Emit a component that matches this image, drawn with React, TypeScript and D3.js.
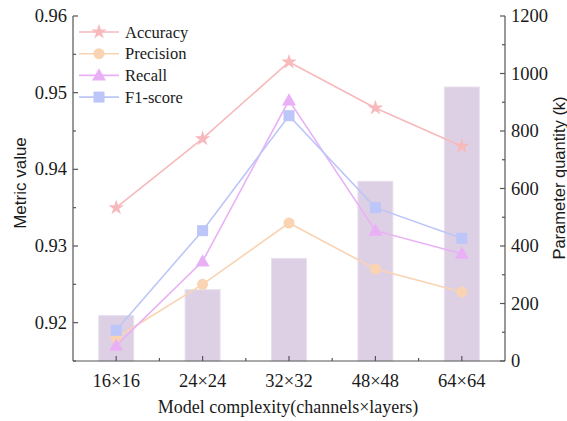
import React from "react";
import * as d3 from "d3";

const categories = ["16×16", "24×24", "32×32", "48×48", "64×64"];
const params = [158, 248, 357, 625, 953];
const accuracy = [0.935, 0.944, 0.954, 0.948, 0.943];
const precision = [0.918, 0.925, 0.933, 0.927, 0.924];
const recall = [0.917, 0.928, 0.949, 0.932, 0.929];
const f1 = [0.919, 0.932, 0.947, 0.935, 0.931];
const leftTicks = [0.92, 0.93, 0.94, 0.95, 0.96];
const rightTicks = [0, 200, 400, 600, 800, 1000, 1200];

const W = 567, H = 421;
const L = 73, R = 505, T = 16, B = 361;

const series = [
  { name: "Accuracy", values: accuracy, color: "#f7b9bc", marker: "star" },
  { name: "Precision", values: precision, color: "#f9d3b2", marker: "circle" },
  { name: "Recall", values: recall, color: "#eab0f6", marker: "triangle" },
  { name: "F1-score", values: f1, color: "#bcc6f8", marker: "square" },
];

function Marker({ type, x, y, color }: { type: string; x: number; y: number; color: string }) {
  if (type === "star") {
    const p = d3.symbol(d3.symbolStar, 75)();
    return <path d={p as string} transform={`translate(${x},${y})`} fill={color} />;
  }
  if (type === "circle") return <circle cx={x} cy={y} r={5.5} fill={color} />;
  if (type === "triangle") {
    const p = d3.symbol(d3.symbolTriangle, 85)();
    return <path d={p as string} transform={`translate(${x},${y + 1})`} fill={color} />;
  }
  return <rect x={x - 5.5} y={y - 5.5} width={11} height={11} fill={color} />;
}

export default function App() {
  const x = d3.scaleBand().domain(categories).range([L, R]).padding(0);
  const yL = d3.scaleLinear().domain([0.915, 0.96]).range([B, T]);
  const yR = d3.scaleLinear().domain([0, 1200]).range([B, T]);
  const bw = 35;
  const cx = (c: string) => (x(c) as number) + x.bandwidth() / 2;
  const line = d3.line<number>().x((_, i) => cx(categories[i])).y((d) => yL(d));
  const leftMinor = d3.range(0, 10).map((i) => 0.915 + i * 0.005);
  const rightMinor = d3.range(0, 13).map((i) => i * 100);
  const boundaries = d3.range(1, categories.length).map((i) => L + i * x.bandwidth());
  const axisColor = "#555";
  const font = "Liberation Serif, serif";
  const sans = "Liberation Sans, Arial, sans-serif";

  return (
    <svg width={W} height={H} style={{ position: "absolute", left: 0, top: 0 }}>
      <rect width={W} height={H} fill="white" />
      {categories.map((c, i) => (
        <rect key={c} x={cx(c) - bw / 2} y={yR(params[i])} width={bw} height={B - yR(params[i])}
          fill="#ddd0e4" stroke="#e8e0ee" strokeWidth={1} />
      ))}
      {series.map((s) => (
        <g key={s.name}>
          <path d={line(s.values) as string} fill="none" stroke={s.color} strokeWidth={1.6} />
          {s.values.map((v, i) => (
            <Marker key={i} type={s.marker} x={cx(categories[i])} y={yL(v)} color={s.color} />
          ))}
        </g>
      ))}
      <g stroke={axisColor} strokeWidth={1.2}>
        <line x1={L} y1={T} x2={L} y2={B} />
        <line x1={R} y1={T} x2={R} y2={B} />
        <line x1={L} y1={B} x2={R} y2={B} />
        {leftMinor.map((v, i) => (
          <line key={"lm" + i} x1={L} x2={L + (i % 2 === 1 ? 5 : 3)} y1={yL(v)} y2={yL(v)} />
        ))}
        {rightMinor.map((v) => (
          <line key={"rm" + v} x1={R} x2={R - (v % 200 === 0 ? 5 : 3)} y1={yR(v)} y2={yR(v)} />
        ))}
        {categories.map((c) => (
          <line key={"xt" + c} x1={cx(c)} x2={cx(c)} y1={B} y2={B - 5} />
        ))}
        {boundaries.map((b, i) => (
          <line key={"xb" + i} x1={b} x2={b} y1={B} y2={B - 3} />
        ))}
      </g>
      <g fontFamily={font} fontSize={18.5} fill="#1a1a1a">
        {leftTicks.map((v) => (
          <text key={v} x={L - 6} y={yL(v)} textAnchor="end" dominantBaseline="central">{v.toFixed(2)}</text>
        ))}
        {rightTicks.map((v) => (
          <text key={v} x={R + 6} y={yR(v)} textAnchor="start" dominantBaseline="central">{v}</text>
        ))}
        {categories.map((c) => (
          <text key={c} x={cx(c)} y={B + 20} textAnchor="middle" dominantBaseline="central">{c}</text>
        ))}
      </g>
      <text x={288} y={407} fontFamily={font} fontSize={18} fill="#1a1a1a" textAnchor="middle" dominantBaseline="central">Model complexity(channels×layers)</text>
      <text fontFamily={sans} fontSize={17} fill="#1a1a1a" transform={`translate(20,183) rotate(-90)`}
        textAnchor="middle" dominantBaseline="central">Metric value</text>
      <text fontFamily={sans} fontSize={16.5} fill="#1a1a1a" transform={`translate(559,178) rotate(-90)`}
        textAnchor="middle" dominantBaseline="central">Parameter quantity (k)</text>
      {series.map((s, i) => {
        const ly = 32 + i * 21.7;
        return (
          <g key={s.name}>
            <line x1={79} x2={119} y1={ly} y2={ly} stroke={s.color} strokeWidth={1.6} />
            <Marker type={s.marker} x={99} y={ly} color={s.color} />
            <text x={125} y={ly} fontFamily={font} fontSize={16.5} fill="#1a1a1a" dominantBaseline="central">{s.name}</text>
          </g>
        );
      })}
    </svg>
  );
}
